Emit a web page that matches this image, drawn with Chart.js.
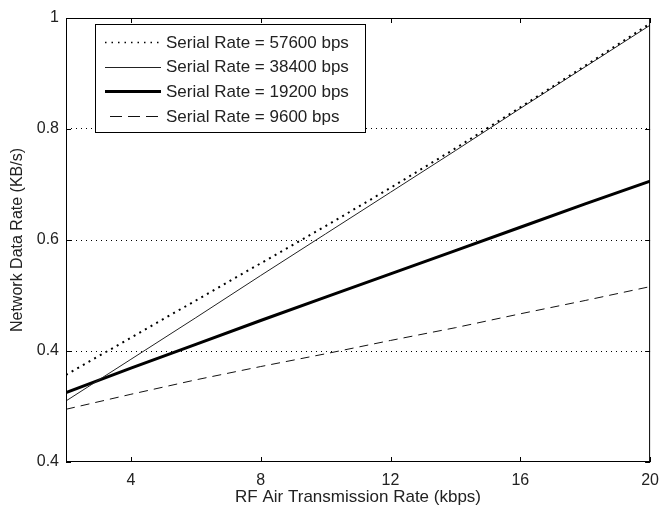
<!DOCTYPE html>
<html>
<head>
<meta charset="utf-8">
<script src="https://cdn.jsdelivr.net/npm/chart.js@4.4.1/dist/chart.umd.min.js"></script>
<style>
  html, body { margin: 0; padding: 0; background: #fff; }
  #wrap { width: 668px; height: 510px; }
</style>
</head>
<body>
<div id="wrap"><canvas id="chart" width="668" height="510"></canvas></div>
<script>
// data
const rfRates = [2, 4, 6, 8, 10, 12, 14, 16, 18, 20];
const rate57600 = [0.357, 0.424, 0.491, 0.558, 0.625, 0.694, 0.765, 0.839, 0.914, 0.990];
const rate38400 = [0.310, 0.385, 0.460, 0.536, 0.611, 0.686, 0.761, 0.837, 0.912, 0.987];
const rate19200 = [0.325, 0.369, 0.412, 0.455, 0.497, 0.539, 0.581, 0.623, 0.665, 0.706];
const rate9600 = [0.295, 0.322, 0.348, 0.372, 0.395, 0.419, 0.442, 0.467, 0.491, 0.516];
const seriesLabels = [
  "Serial Rate = 57600 bps",
  "Serial Rate = 38400 bps",
  "Serial Rate = 19200 bps",
  "Serial Rate = 9600 bps",
];
const xTicks = [4, 8, 12, 16, 20];
const yTicks = [0.2, 0.4, 0.6, 0.8, 1.0];
const yTickLabels = ["0.4", "0.4", "0.6", "0.8", "1"];

const FONT = "'Liberation Sans', Arial, sans-serif";
const TXT = "#222";

const toPoints = (ys) => rfRates.map((x, i) => ({ x: x, y: ys[i] }));

// frame, inward ticks (matlab style) and boxed legend
const matlabBits = {
  id: "matlabBits",
  afterDraw(chart) {
    const { ctx, chartArea: a, scales } = chart;
    const tl = 5;
    ctx.save();
    ctx.strokeStyle = "#000";
    ctx.lineWidth = 1;
    ctx.setLineDash([]);
    ctx.strokeRect(a.left + 0.5, a.top + 0.5, a.right - a.left - 1, a.bottom - a.top - 1);

    ctx.beginPath();
    xTicks.forEach((v) => {
      const px = Math.round(scales.x.getPixelForValue(v)) + 0.5;
      ctx.moveTo(px, a.bottom); ctx.lineTo(px, a.bottom - tl);
      ctx.moveTo(px, a.top); ctx.lineTo(px, a.top + tl);
    });
    yTicks.forEach((v) => {
      const py = Math.round(scales.y.getPixelForValue(v)) + 0.5;
      ctx.moveTo(a.left, py); ctx.lineTo(a.left + tl, py);
      ctx.moveTo(a.right, py); ctx.lineTo(a.right - tl, py);
    });
    ctx.stroke();

    // legend box
    const bx = 95, by = 24, bw = 270, bh = 108;
    ctx.fillStyle = "#fff";
    ctx.fillRect(bx, by, bw, bh);
    ctx.strokeRect(bx + 0.5, by + 0.5, bw, bh);

    ctx.font = "17px " + FONT;
    ctx.fillStyle = TXT;
    ctx.textBaseline = "middle";
    chart.data.datasets.forEach((ds, i) => {
      const y = by + 18 + i * 24.7;
      ctx.beginPath();
      ctx.lineWidth = ds.legendWidth || ds.borderWidth;
      ctx.strokeStyle = ds.borderColor;
      ctx.setLineDash(ds.legendDash || ds.borderDash || []);
      ctx.moveTo(ds.legendStart || 105, Math.round(y) + 0.5);
      ctx.lineTo(161, Math.round(y) + 0.5);
      ctx.stroke();
      ctx.setLineDash([]);
      ctx.fillText(ds.label, 166, y + 1);
    });
    ctx.restore();
  },
};

new Chart(document.getElementById("chart"), {
  type: "line",
  data: {
    datasets: [
      {
        label: seriesLabels[0],
        data: toPoints(rate57600),
        borderColor: "#000",
        borderWidth: 2,
        borderDash: [2, 4.5],
        legendDash: [1.5, 5],
        legendWidth: 1.5,
      },
      {
        label: seriesLabels[1],
        data: toPoints(rate38400),
        borderColor: "#222",
        borderWidth: 1,
      },
      {
        label: seriesLabels[2],
        data: toPoints(rate19200),
        borderColor: "#000",
        borderWidth: 3,
      },
      {
        label: seriesLabels[3],
        data: toPoints(rate9600),
        borderColor: "#111",
        borderWidth: 1,
        borderDash: [9, 6],
        legendDash: [12, 6],
        legendStart: 110,
      },
    ],
  },
  options: {
    responsive: false,
    animation: false,
    events: [],
    elements: { point: { radius: 0 }, line: { tension: 0, borderCapStyle: "butt" } },
    layout: { padding: { top: 18, right: 14, left: 0, bottom: 0 } },
    plugins: { legend: { display: false }, tooltip: { enabled: false } },
    scales: {
      x: {
        type: "linear",
        min: 2,
        max: 20,
        afterBuildTicks: (s) => { s.ticks = xTicks.map((v) => ({ value: v })); },
        afterFit: (s) => { s.height = 48; },
        grid: { display: false, drawTicks: false },
        border: { display: false },
        ticks: {
          padding: 9,
          color: TXT,
          font: { family: FONT, size: 16 },
          maxRotation: 0,
          callback: (v) => String(v),
        },
        title: {
          display: true,
          text: "RF Air Transmission Rate (kbps)",
          color: TXT,
          font: { family: FONT, size: 17 },
          padding: { top: 0, bottom: 2 },
        },
      },
      y: {
        type: "linear",
        min: 0.2,
        max: 1.0,
        afterBuildTicks: (s) => { s.ticks = yTicks.map((v) => ({ value: v })); },
        afterFit: (s) => { s.width = 66; },
        grid: {
          drawTicks: false,
          lineWidth: 1,
          color: (c) => (c.tick && c.tick.value > 0.3 && c.tick.value < 0.9 ? "#000" : "rgba(0,0,0,0)"),
        },
        border: { display: false, dash: [1, 4] },
        ticks: {
          padding: 7,
          color: TXT,
          font: { family: FONT, size: 16 },
          callback: (v, i) => yTickLabels[i],
        },
        title: {
          display: true,
          text: "Network Data Rate (KB/s)",
          color: TXT,
          font: { family: FONT, size: 16 },
          padding: { top: 8, bottom: 0 },
        },
      },
    },
  },
  plugins: [matlabBits],
});
</script>
</body>
</html>
